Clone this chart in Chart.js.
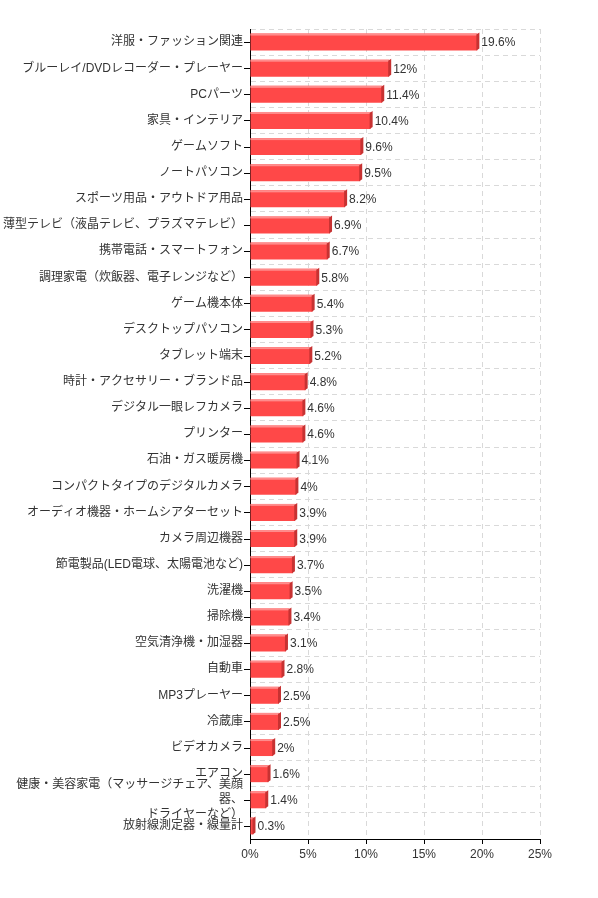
<!DOCTYPE html>
<html>
<head>
<meta charset="utf-8">
<script src="https://cdn.jsdelivr.net/npm/chart.js@4"></script>
<style>
  body { margin: 0; background: #fff; }
  #wrap { width: 598px; height: 898px; }
</style>
</head>
<body>
<div id="wrap"><canvas id="chart"></canvas></div>
<script>
const categories = [
  "洋服・ファッション関連",
  "ブルーレイ/DVDレコーダー・プレーヤー",
  "PCパーツ",
  "家具・インテリア",
  "ゲームソフト",
  "ノートパソコン",
  "スポーツ用品・アウトドア用品",
  "薄型テレビ（液晶テレビ、プラズマテレビ）",
  "携帯電話・スマートフォン",
  "調理家電（炊飯器、電子レンジなど）",
  "ゲーム機本体",
  "デスクトップパソコン",
  "タブレット端末",
  "時計・アクセサリー・ブランド品",
  "デジタル一眼レフカメラ",
  "プリンター",
  "石油・ガス暖房機",
  "コンパクトタイプのデジタルカメラ",
  "オーディオ機器・ホームシアターセット",
  "カメラ周辺機器",
  "節電製品(LED電球、太陽電池など)",
  "洗濯機",
  "掃除機",
  "空気清浄機・加湿器",
  "自動車",
  "MP3プレーヤー",
  "冷蔵庫",
  "ビデオカメラ",
  "エアコン",
  ["健康・美容家電（マッサージチェア、美顔", "器、", "ドライヤーなど）"],
  "放射線測定器・線量計"
];
const shares = [19.6, 12, 11.4, 10.4, 9.6, 9.5, 8.2, 6.9, 6.7, 5.8, 5.4, 5.3, 5.2, 4.8, 4.6, 4.6,
  4.1, 4, 3.9, 3.9, 3.7, 3.5, 3.4, 3.1, 2.8, 2.5, 2.5, 2, 1.6, 1.4, 0.3];
const xTicks = [0, 5, 10, 15, 20, 25];

const FONT = "'Liberation Sans', 'Noto Sans CJK JP', sans-serif";

// fake 3d look + value labels at the bar ends
const barDecor = {
  id: "barDecor",
  afterDatasetsDraw(chart) {
    const ctx = chart.ctx;
    const meta = chart.getDatasetMeta(0);
    ctx.save();
    meta.data.forEach((bar, i) => {
      const top = bar.y - bar.height / 2;
      const w = bar.x - bar.base;
      ctx.fillStyle = "#ff8c8c";
      ctx.fillRect(bar.base, top, w, 2);
      ctx.fillStyle = "#c73232";
      ctx.beginPath();
      ctx.moveTo(bar.x - 1, top + 1);
      ctx.lineTo(bar.x + 2, top - 1);
      ctx.lineTo(bar.x + 2, top + bar.height - 2);
      ctx.lineTo(bar.x - 1, top + bar.height);
      ctx.closePath();
      ctx.fill();
      ctx.fillStyle = "#333";
      ctx.font = "12px " + FONT;
      ctx.textBaseline = "middle";
      ctx.textAlign = "left";
      ctx.fillText(shares[i] + "%", bar.x + 4, bar.y + 1);
    });
    ctx.restore();
  },
  afterDraw(chart) {
    // tick marks on the category axis sit at the label centres
    const y = chart.scales.y;
    const ctx = chart.ctx;
    ctx.save();
    ctx.strokeStyle = "#000";
    ctx.lineWidth = 1;
    ctx.beginPath();
    y.ticks.forEach((t, i) => {
      const py = Math.round(y.getPixelForTick(i)) + 0.5;
      ctx.moveTo(y.right - 6, py);
      ctx.lineTo(y.right, py);
    });
    ctx.stroke();
    ctx.restore();
  }
};

const chartConfig = {
  type: "bar",
  data: {
    labels: categories,
    datasets: [{
      data: shares,
      backgroundColor: "#ff4848",
      borderWidth: 0,
      barPercentage: 0.65,
      categoryPercentage: 1
    }]
  },
  options: {
    indexAxis: "y",
    responsive: true,
    maintainAspectRatio: false,
    animation: false,
    layout: { padding: { top: 29, right: 58, left: 0, bottom: 0 } },
    plugins: { legend: { display: false }, tooltip: { enabled: false } },
    scales: {
      x: {
        min: 0,
        max: 25,
        afterBuildTicks(scale) { scale.ticks = xTicks.map(v => ({ value: v })); },
        afterFit(scale) { scale.height = 59; },
        grid: { color: "#d9d9d9", tickColor: "#000", tickLength: 5 },
        border: { color: "#000", width: 1, dash: [5, 4] },
        ticks: {
          color: "#333",
          padding: 3,
          font: { family: FONT, size: 12 },
          callback: v => v + "%"
        }
      },
      y: {
        afterFit(scale) { scale.width = 250; },
        grid: { color: "#d9d9d9", offset: true, drawTicks: false },
        border: { color: "#000", width: 1, dash: [5, 4] },
        ticks: {
          color: "#333",
          padding: 7,
          autoSkip: false,
          font: { family: FONT, size: 12, lineHeight: 1.25 }
        }
      }
    }
  },
  plugins: [barDecor]
};

new Chart(document.getElementById("chart").getContext("2d"), chartConfig);
</script>
</body>
</html>
